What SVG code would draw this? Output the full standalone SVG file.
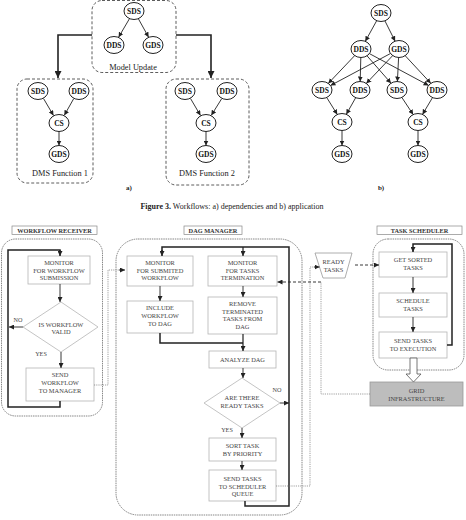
<svg xmlns="http://www.w3.org/2000/svg" width="466" height="520" viewBox="0 0 466 520">
<style>
.bg{fill:#fff}
.n ellipse{fill:#fff;stroke:#222;stroke-width:1}
.n text{font-family:"Liberation Serif",serif;font-weight:bold;font-size:7.5px;text-anchor:middle;fill:#111}
.grp{fill:none;stroke:#333;stroke-width:0.8;stroke-dasharray:3,2}
.lbl{font-family:"Liberation Serif",serif;font-size:8.3px;text-anchor:middle;fill:#222}
.e{fill:none;stroke:#222;stroke-width:0.9;marker-end:url(#ah)}
.et{fill:none;stroke:#222;stroke-width:1.6;marker-end:url(#ahb)}
.box{fill:#fff;stroke:#b5b5b5;stroke-width:0.8}
.t{font-family:"Liberation Serif",serif;font-size:6.4px;text-anchor:middle;fill:#444}
.hd{fill:#fff;stroke:#888;stroke-width:0.7}
.ht{font-family:"Liberation Serif",serif;font-weight:bold;font-size:6.3px;text-anchor:middle;fill:#333}
.cont{fill:none;stroke:#555;stroke-width:0.7;stroke-dasharray:1.5,0.8}
.f{fill:none;stroke:#222;stroke-width:0.9;marker-end:url(#ah)}
.ft{fill:none;stroke:#222;stroke-width:1.5}
.dot{fill:none;stroke:#777;stroke-width:0.7;stroke-dasharray:1.2,1}
.dsh{fill:none;stroke:#222;stroke-width:0.9;stroke-dasharray:3,2}
</style>
<defs>
<marker id="ah" markerUnits="userSpaceOnUse" markerWidth="6" markerHeight="5" refX="5" refY="2.5" orient="auto"><path d="M0,0 L5,2.5 L0,5 z" fill="#222"/></marker>
<marker id="ahb" markerUnits="userSpaceOnUse" markerWidth="8" markerHeight="7" refX="7" refY="3.5" orient="auto"><path d="M0,0 L7,3.5 L0,7 z" fill="#222"/></marker>
</defs>
<rect class="bg" width="466" height="520"/>

<!-- (a) groups -->
<g id="model-update"><rect class="grp" x="92" y="0.5" width="84" height="72" rx="10"/><text class="lbl" x="133" y="69.5">Model Update</text></g>
<g id="dms-function-1"><rect class="grp" x="17" y="79" width="76" height="104" rx="10"/><text class="lbl" x="60" y="176">DMS Function 1</text></g>
<g id="dms-function-2"><rect class="grp" x="166" y="79" width="83" height="106" rx="10"/><text class="lbl" x="207" y="176">DMS Function 2</text></g>

<g id="a-mu-sds" class="n"><ellipse cx="134" cy="11" rx="10" ry="8.5"/><text x="134" y="13.7">SDS</text></g>
<g id="a-mu-dds" class="n"><ellipse cx="114" cy="45" rx="10" ry="8.5"/><text x="114" y="47.7">DDS</text></g>
<g id="a-mu-gds" class="n"><ellipse cx="153" cy="45" rx="10" ry="8.5"/><text x="153" y="47.7">GDS</text></g>
<g id="a-f1-sds" class="n"><ellipse cx="38" cy="91" rx="10" ry="8.5"/><text x="38" y="93.7">SDS</text></g>
<g id="a-f1-dds" class="n"><ellipse cx="79" cy="91" rx="10" ry="8.5"/><text x="79" y="93.7">DDS</text></g>
<g id="a-f1-cs" class="n"><ellipse cx="59" cy="123" rx="10" ry="8.5"/><text x="59" y="125.7">CS</text></g>
<g id="a-f1-gds" class="n"><ellipse cx="59" cy="154" rx="10" ry="8.5"/><text x="59" y="156.7">GDS</text></g>
<g id="a-f2-sds" class="n"><ellipse cx="185" cy="91" rx="10" ry="8.5"/><text x="185" y="93.7">SDS</text></g>
<g id="a-f2-dds" class="n"><ellipse cx="227" cy="91" rx="10" ry="8.5"/><text x="227" y="93.7">DDS</text></g>
<g id="a-f2-cs" class="n"><ellipse cx="206" cy="123" rx="10" ry="8.5"/><text x="206" y="125.7">CS</text></g>
<g id="a-f2-gds" class="n"><ellipse cx="206" cy="154" rx="10" ry="8.5"/><text x="206" y="156.7">GDS</text></g>

<!-- (b) nodes -->
<g id="b-sds" class="n"><ellipse cx="381" cy="13" rx="10" ry="8.5"/><text x="381" y="15.7">SDS</text></g>
<g id="b-dds" class="n"><ellipse cx="361" cy="49" rx="10" ry="8.5"/><text x="361" y="51.7">DDS</text></g>
<g id="b-gds" class="n"><ellipse cx="399" cy="49" rx="10" ry="8.5"/><text x="399" y="51.7">GDS</text></g>
<g id="b-sds1" class="n"><ellipse cx="322" cy="90" rx="10" ry="8.5"/><text x="322" y="92.7">SDS</text></g>
<g id="b-dds1" class="n"><ellipse cx="360" cy="90" rx="10" ry="8.5"/><text x="360" y="92.7">DDS</text></g>
<g id="b-sds2" class="n"><ellipse cx="397" cy="90" rx="10" ry="8.5"/><text x="397" y="92.7">SDS</text></g>
<g id="b-dds2" class="n"><ellipse cx="437" cy="90" rx="10" ry="8.5"/><text x="437" y="92.7">DDS</text></g>
<g id="b-cs1" class="n"><ellipse cx="342" cy="122" rx="10" ry="8.5"/><text x="342" y="124.7">CS</text></g>
<g id="b-cs2" class="n"><ellipse cx="418" cy="122" rx="10" ry="8.5"/><text x="418" y="124.7">CS</text></g>
<g id="b-gds1" class="n"><ellipse cx="342" cy="154" rx="10" ry="8.5"/><text x="342" y="156.7">GDS</text></g>
<g id="b-gds2" class="n"><ellipse cx="418" cy="154" rx="10" ry="8.5"/><text x="418" y="156.7">GDS</text></g>

<g id="top-connectors">
<path class="et" d="M92,35 H58 V78"/>
<path class="et" d="M176,35 H211 V78"/>
<path class="e" d="M129.4,18.8 L118.6,37.2"/>
<path class="e" d="M138.4,18.8 L148.6,37.2"/>
<path class="e" d="M43.5,98.5 L53.5,115.5"/>
<path class="e" d="M73.7,98.7 L64.3,115.3"/>
<path class="e" d="M59,131.5 V145.5"/>
<path class="e" d="M190.5,98.5 L200.5,115.5"/>
<path class="e" d="M221.7,98.7 L211.3,115.3"/>
<path class="e" d="M206,131.5 V145.5"/>
<path class="e" d="M376.7,20.7 L365.3,41.3"/>
<path class="e" d="M384.9,20.8 L395.1,41.2"/>
<path class="e" d="M354.7,55.6 L328.3,83.4"/>
<path class="e" d="M360.8,57.5 L360.2,81.5"/>
<path class="e" d="M367,55.8 L391,83.2"/>
<path class="e" d="M369.4,53.6 L428.6,85.4"/>
<path class="e" d="M390.5,53.5 L330.5,85.5"/>
<path class="e" d="M392.7,55.6 L366.3,83.4"/>
<path class="e" d="M398.6,57.5 L397.4,81.5"/>
<path class="e" d="M405.2,55.7 L430.8,83.3"/>
<path class="e" d="M326.7,97.5 L337.3,114.5"/>
<path class="e" d="M355.7,97.7 L346.3,114.3"/>
<path class="e" d="M401.8,97.4 L413.2,114.6"/>
<path class="e" d="M432.5,97.6 L422.5,114.4"/>
<path class="e" d="M342,130.5 V145.5"/>
<path class="e" d="M418,130.5 V145.5"/>
</g>

<text x="129" y="190" style="font-family:'Liberation Serif',serif;font-weight:bold;font-size:7px;text-anchor:middle;fill:#222">a)</text>
<text x="381" y="190" style="font-family:'Liberation Serif',serif;font-weight:bold;font-size:7px;text-anchor:middle;fill:#222">b)</text>
<text x="232" y="209" style="font-family:'Liberation Serif',serif;font-size:8px;text-anchor:middle;fill:#222"><tspan font-weight="bold">Figure 3.</tspan> Workflows: a) dependencies and b) application</text>

<!-- headers and containers -->
<g id="workflow-receiver"><rect class="hd" x="12" y="226" width="85" height="8.5"/><text class="ht" x="54.5" y="232.6">WORKFLOW RECEIVER</text><rect class="cont" x="1.5" y="239" width="101" height="177" rx="14"/></g>
<g id="dag-manager"><rect class="hd" x="184" y="226" width="58" height="8.5"/><text class="ht" x="213" y="232.6">DAG MANAGER</text><rect class="cont" x="116" y="239" width="186" height="276" rx="22"/></g>
<g id="task-scheduler"><rect class="hd" x="377" y="226" width="85" height="8.5"/><text class="ht" x="419.5" y="232.6">TASK SCHEDULER</text><rect class="cont" x="373" y="239" width="91" height="131" rx="15"/></g>

<!-- workflow receiver nodes -->
<g id="monitor-workflow"><rect class="box" x="28" y="256" width="62" height="28"/><text class="t" x="59" y="265">MONITOR</text><text class="t" x="59" y="272.5">FOR WORKFLOW</text><text class="t" x="59" y="280">SUBMISSION</text></g>
<g id="is-workflow-valid"><polygon class="box" points="61,302 98,327 61,352 23,327"/><text class="t" x="61" y="326.5">IS WORKFLOW</text><text class="t" x="61" y="334">VALID</text></g>
<g id="send-workflow"><rect class="box" x="26" y="368" width="68" height="33"/><text class="t" x="60" y="377">SEND</text><text class="t" x="60" y="385">WORKFLOW</text><text class="t" x="60" y="393">TO MANAGER</text></g>

<!-- DAG manager nodes -->
<g id="monitor-submitted"><rect class="box" x="127" y="256" width="66" height="30"/><text class="t" x="160" y="265">MONITOR</text><text class="t" x="160" y="272.5">FOR SUBMITED</text><text class="t" x="160" y="280">WORKFLOW</text></g>
<g id="monitor-termination"><rect class="box" x="208" y="256" width="69" height="30"/><text class="t" x="242.5" y="265">MONITOR</text><text class="t" x="242.5" y="272.5">FOR TASKS</text><text class="t" x="242.5" y="280">TERMINATION</text></g>
<g id="include-workflow"><rect class="box" x="127" y="301" width="66" height="32"/><text class="t" x="160" y="310">INCLUDE</text><text class="t" x="160" y="318">WORKFLOW</text><text class="t" x="160" y="326">TO DAG</text></g>
<g id="remove-terminated"><rect class="box" x="208" y="297" width="69" height="37"/><text class="t" x="242.5" y="306">REMOVE</text><text class="t" x="242.5" y="313.5">TERMINATED</text><text class="t" x="242.5" y="321">TASKS FROM</text><text class="t" x="242.5" y="328.5">DAG</text></g>
<g id="analyze-dag"><rect class="box" x="209" y="351" width="67" height="17"/><text class="t" x="242.5" y="361.5">ANALYZE DAG</text></g>
<g id="ready-tasks-decision"><polygon class="box" points="242,378 280,403 242,428 204,403"/><text class="t" x="242" y="400">ARE THERE</text><text class="t" x="242" y="408">READY TASKS</text></g>
<g id="sort-task"><rect class="box" x="209" y="438" width="67" height="23"/><text class="t" x="242.5" y="448">SORT TASK</text><text class="t" x="242.5" y="455.5">BY PRIORITY</text></g>
<g id="send-to-queue"><rect class="box" x="209" y="470" width="67" height="31"/><text class="t" x="242.5" y="481">SEND TASKS</text><text class="t" x="242.5" y="488.5">TO SCHEDULER</text><text class="t" x="242.5" y="496">QUEUE</text></g>

<!-- ready tasks queue -->
<g id="ready-tasks"><polygon class="box" points="315,253 352,253 345,278 323,278" style="stroke:#999"/><text class="t" x="333.5" y="264">READY</text><text class="t" x="333.5" y="272">TASKS</text></g>

<!-- task scheduler nodes -->
<g id="get-sorted"><rect class="box" x="379" y="252" width="68" height="25"/><text class="t" x="413" y="262">GET SORTED</text><text class="t" x="413" y="270">TASKS</text></g>
<g id="schedule-tasks"><rect class="box" x="379" y="293" width="68" height="24"/><text class="t" x="413" y="303">SCHEDULE</text><text class="t" x="413" y="311">TASKS</text></g>
<g id="send-execution"><rect class="box" x="379" y="332" width="68" height="26"/><text class="t" x="413" y="343">SEND TASKS</text><text class="t" x="413" y="350.5">TO EXECUTION</text></g>
<g id="grid-infrastructure"><rect x="370" y="382" width="93" height="24" fill="#bdbdbd" stroke="#999" stroke-width="0.8"/><text class="t" x="416.5" y="393">GRID</text><text class="t" x="416.5" y="401">INFRASTRUCTURE</text></g>

<g id="flow-connectors">
<path class="f" d="M60,284 V302"/>
<path class="f" d="M23,327 H9"/>
<path class="f" d="M61,352 V368"/>
<path class="ft" d="M60,401 V407 H8 V250 H60 V253"/>
<path class="f" d="M60,250 V256" style="stroke-width:1.5"/>
<path class="dot" d="M94,385 H108 V270 H121"/>
<path class="f" d="M119,270 H125" style="stroke-dasharray:none"/>

<path class="f" d="M160,286 V301"/>
<path class="f" d="M243,286 V297"/>
<path class="ft" d="M160,333 V343 H243"/>
<path class="f" d="M243,334 V351" style="stroke-width:1.2"/>
<path class="f" d="M243,368 V378"/>
<path class="f" d="M242,428 V438"/>
<path class="f" d="M242,461 V470"/>
<path class="f" d="M280,403 H289"/>
<path class="ft" d="M245,501 V506 H289 V247 H162 V252"/>
<path class="f" d="M162,250 V256" style="stroke-width:1.5"/>
<path class="f" d="M243,247 V256" style="stroke-width:1.2"/>

<path class="dot" d="M276,486 H310 V267 H316"/>
<path class="f" d="M314,267 H319.5"/>
<path class="dsh" d="M355,265 H376"/>
<path class="f" d="M374,265 H379"/>
<path class="dot" d="M370,394 H321 V282"/>
<path class="dsh" d="M321,282 H281"/>
<path class="f" d="M283,282 H277.5"/>

<path class="f" d="M413,277 V293"/>
<path class="f" d="M413,317 V332"/>
<path class="ft" d="M447,345 H452 V244 H413 V249"/>
<path class="f" d="M413,247 V252" style="stroke-width:1.5"/>
<polygon points="410,358 417,358 417,374 421,374 413.5,382 406,374 410,374" fill="#fff" stroke="#555" stroke-width="0.8"/>
</g>

<text x="18" y="322" style="font-family:'Liberation Serif',serif;font-size:6.2px;text-anchor:middle;fill:#444">NO</text>
<text x="41" y="356" style="font-family:'Liberation Serif',serif;font-size:6.2px;text-anchor:middle;fill:#444">YES</text>
<text x="277" y="392" style="font-family:'Liberation Serif',serif;font-size:6.2px;text-anchor:middle;fill:#444">NO</text>
<text x="227" y="432" style="font-family:'Liberation Serif',serif;font-size:6.2px;text-anchor:middle;fill:#444">YES</text>
</svg>
